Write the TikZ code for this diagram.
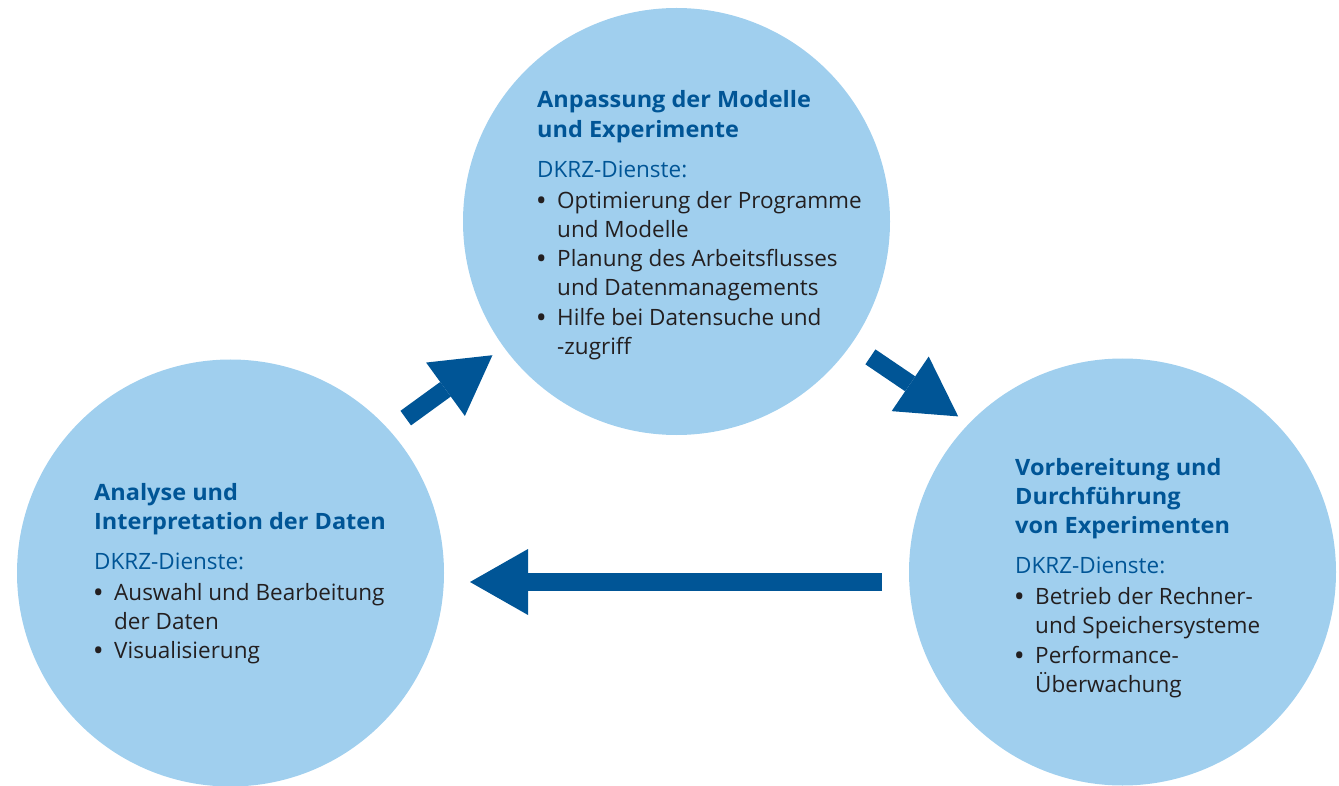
\documentclass[tikz,border=0pt]{standalone}
\usepackage{fontspec}
\setmainfont{Open Sans}
\newfontfamily\hdfont{Open Sans}[FakeStretch=1.045]
\usetikzlibrary{arrows.meta}
\definecolor{blue1}{RGB}{160, 207, 238}
\definecolor{blue2}{RGB}{0, 85, 150}
\definecolor{gray1}{RGB}{35, 31, 32}
\newcommand{\itm}{\makebox[20pt][l]{\bfseries\textbullet}}
\newcommand{\ind}{\hspace*{20pt}}
\newcommand{\hd}[1]{{\hdfont\bfseries #1}}

\begin{document}
\begin{tikzpicture}[x=1pt, y=-1pt,
  blob/.style={circle, fill=blue1, minimum size=427pt, inner sep=0pt, outer sep=0pt},
  txt/.style={anchor=base west, inner sep=0pt, text=blue2,
    font=\fontsize{22.5pt}{29.3pt}\selectfont},
  bigarrow/.style={draw=blue2, line width=18pt,
    -{Triangle[length=58pt, width=66pt, line width=0pt]}}]
  \useasboundingbox (0,0) rectangle (1339,786);
  \node[blob] (n1) at (676.5,221.5) {};
  \node[blob] (n2) at (1122.5,572) {};
  \node[blob] (n3) at (230.5,573) {};
  \foreach \from/\to/\sa/\sb in {n3.42/n1.216/20.5/14, n1.325.5/n2.136.5/23/13}
   \draw[bigarrow, shorten <=\sa pt, shorten >=\sb pt] (\from) -- (\to);
  \draw[bigarrow, shorten <=27pt, shorten >=26pt]
    ([yshift=-10pt]n2.west) -- ([yshift=-9pt]n3.east);
  % texts
  \node[txt] (t1) at (537,108) {\parbox[t]{350pt}{%
    \hd{Anpassung der Modelle}\\
    \hd{und Experimente}\\[10.7pt]
    DKRZ-Dienste:\\[1.5pt]
    \color{gray1}\itm Optimierung der Programme\\
    \ind und Modelle\\
    \itm Planung des Arbeitsflusses\\
    \ind und Datenmanagements\\
    \itm Hilfe bei Datensuche und\\
    \ind -zugriff}};
  \node[txt] (t2) at (1015,475) {\parbox[t]{310pt}{%
    \hd{Vorbereitung und}\\
    \hd{Durchführung}\\
    \hd{von Experimenten}\\[10.7pt]
    DKRZ-Dienste:\\[1.5pt]
    \color{gray1}\itm Betrieb der Rechner-\\
    \ind und Speichersysteme\\
    \itm Performance-\\
    \ind Überwachung}};
  \node[txt] (t3) at (94,500) {\parbox[t]{340pt}{%
    \hd{Analyse und}\\
    \hd{Interpretation der Daten}\\[10.7pt]
    DKRZ-Dienste:\\[1.5pt]
    \color{gray1}\itm Auswahl und Bearbeitung\\
    \ind der Daten\\
    \itm Visualisierung}};
\end{tikzpicture}
\end{document}
